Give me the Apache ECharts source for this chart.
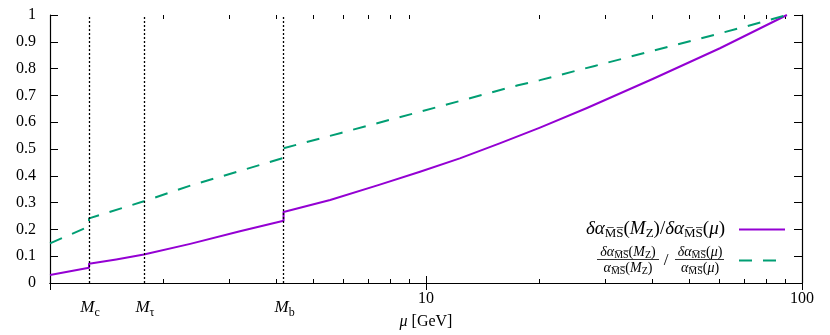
<!DOCTYPE html>
<html><head><meta charset="utf-8">
<script src="https://cdn.jsdelivr.net/npm/echarts@6/dist/echarts.min.js"></script>
<style>html,body{margin:0;padding:0;background:#fff}#c{width:830px;height:335px}</style>
</head><body><div id="c"></div>
<script>
// ---- data ----
const muPurple  = [1, 1.27, 1.27, 1.5, 1.777, 2.36, 3.2, 4.18, 4.18, 5.56, 7.5, 9.64, 12.3, 15.7, 20.1, 26.8, 40.2, 60.5, 91.19];
const valPurple = [0.03, 0.057, 0.072, 0.088, 0.106, 0.146, 0.193, 0.232, 0.265, 0.31, 0.366, 0.415, 0.465, 0.521, 0.58, 0.653, 0.762, 0.876, 1.0];
const muGreen   = [1, 1.27, 1.27, 1.777, 2.38, 3.2, 4.18, 4.18, 5.94, 9.64, 17.57, 20.1, 28.1, 44.6, 71.4, 91.19];
const valGreen  = [0.148, 0.211, 0.241, 0.305, 0.365, 0.418, 0.467, 0.503, 0.56, 0.639, 0.738, 0.757, 0.81, 0.883, 0.958, 1.0];
const markers   = [1.27, 1.777, 4.18];
const markerSub = ['c', 'τ', 'b'];
const xMinor    = [2, 3, 4, 5, 6, 7, 8, 9, 20, 30, 40, 50, 60, 70, 80, 90];

const FONT = 'Liberation Serif';
const purple = '#9400d3', green = '#009e73';
const OL = 'M\u0305S\u0305';

function richStyles(size, sub) {
  return {
    i: {fontFamily: FONT, fontStyle: 'italic', fontSize: size, color: '#000'},
    r: {fontFamily: FONT, fontSize: size, color: '#000'},
    s: {fontFamily: FONT, fontSize: sub, color: '#000', padding: [Math.round(size*0.5), 0, 0, 0]}
  };
}

const chart = echarts.init(document.getElementById('c'), null, {renderer: 'canvas'});
const gridPos = {left: 50, right: 28, top: 15, bottom: 52};
const axisLineStyle = {color: '#000', width: 1.2};
function xAx(pos) {
  return {
    type: 'log', logBase: 10, min: 1, max: 100, position: pos,
    axisLine: {show: true, lineStyle: axisLineStyle},
    axisTick: {show: true, inside: true, length: 7, lineStyle: {color: '#000', width: 1}},
    axisLabel: {show: pos === 'bottom', fontFamily: FONT, fontSize: 16, color: '#000', margin: 8,
      formatter: v => (Math.abs(v - 1) < 1e-9 ? '' : String(Math.round(v)))},
    splitLine: {show: false}, minorTick: {show: false}, minorSplitLine: {show: false}
  };
}
function yAx(pos) {
  return {
    type: 'value', min: 0, max: 1, interval: 0.1, position: pos,
    axisLine: {show: true, lineStyle: axisLineStyle},
    axisTick: {show: true, inside: true, length: 8, lineStyle: {color: '#000', width: 1}},
    axisLabel: {show: pos === 'left', fontFamily: FONT, fontSize: 16, color: '#000', margin: 14,
      formatter: v => String(Math.round(v * 10) / 10)},
    splitLine: {show: false}
  };
}

chart.setOption({
  animation: false,
  backgroundColor: '#fff',
  grid: Object.assign({outerBoundsMode: 'none', containLabel: false}, gridPos),
  xAxis: [xAx('bottom'), xAx('top')],
  yAxis: [yAx('left'), yAx('right')],
  series: [
    {
      type: 'line', xAxisIndex: 0, yAxisIndex: 0, showSymbol: false, symbol: 'none',
      data: muPurple.map((m, i) => [m, valPurple[i]]),
      lineStyle: {color: purple, width: 2, join: 'round'},
      z: 3,
      markLine: {
        silent: true, symbol: 'none', animation: false,
        label: {show: false},
        lineStyle: {color: '#000', type: [2, 2], width: 1.3},
        data: markers.map(m => ({xAxis: m}))
      }
    },
    {
      type: 'line', xAxisIndex: 0, yAxisIndex: 0, showSymbol: false, symbol: 'none',
      data: muGreen.map((m, i) => [m, valGreen[i]]),
      lineStyle: {color: green, width: 2, type: [13, 11]},
      z: 3
    }
  ]
});

const g = [];
// minor log ticks (bottom and top), positioned through the axis scale
const yBot = chart.convertToPixel({yAxisIndex: 0}, 0);
const yTop = chart.convertToPixel({yAxisIndex: 0}, 1);
xMinor.forEach(v => {
  const x = Math.round(chart.convertToPixel({xAxisIndex: 0}, v)) + 0.5;
  g.push({type: 'line', shape: {x1: x, y1: yBot, x2: x, y2: yBot - 4}, style: {stroke: '#000', lineWidth: 1}});
  g.push({type: 'line', shape: {x1: x, y1: yTop, x2: x, y2: yTop + 4}, style: {stroke: '#000', lineWidth: 1}});
});
// marker labels
markers.forEach((m, k) => {
  const x = chart.convertToPixel({xAxisIndex: 0}, m);
  g.push({type: 'text', x: x + 1, y: 308, style: {
    text: '{i|M}{s|' + markerSub[k] + '}', rich: richStyles(17, 12),
    align: 'center', verticalAlign: 'middle'}});
});
g.push({type: 'text', x: 426, y: 322, style: {
  text: '{i|μ}{r| [GeV]}', rich: richStyles(16, 11), align: 'center', verticalAlign: 'middle'}});

// legend line 1
g.push({type: 'text', x: 725, y: 229, style: {
  text: '{i|δα}{s|' + OL + '}{r|(}{i|M}{s|Z}{r|)/}{i|δα}{s|' + OL + '}{r|(}{i|μ}{r|)}',
  rich: richStyles(19, 13), align: 'right', verticalAlign: 'middle'}});
g.push({type: 'line', shape: {x1: 739, y1: 229.5, x2: 785, y2: 229.5}, style: {stroke: purple, lineWidth: 2}});
// legend line 2 (fractions)
function frac(cx, num, den, x1, x2) {
  g.push({type: 'text', x: cx, y: 252, style: {text: num, rich: richStyles(14, 10), align: 'center', verticalAlign: 'middle'}});
  g.push({type: 'line', shape: {x1: x1, y1: 259.5, x2: x2, y2: 259.5}, style: {stroke: '#000', lineWidth: 0.8}});
  g.push({type: 'text', x: cx, y: 268, style: {text: den, rich: richStyles(14, 10), align: 'center', verticalAlign: 'middle'}});
}
frac(628, '{i|δα}{s|' + OL + '}{r|(}{i|M}{s|Z}{r|)}', '{i|α}{s|' + OL + '}{r|(}{i|M}{s|Z}{r|)}', 597, 659);
g.push({type: 'text', x: 666, y: 261, style: {text: '/', fontFamily: FONT, fontSize: 17, fill: '#000', align: 'center', verticalAlign: 'middle'}});
frac(700, '{i|δα}{s|' + OL + '}{r|(}{i|μ}{r|)}', '{i|α}{s|' + OL + '}{r|(}{i|μ}{r|)}', 675, 724);
g.push({type: 'line', shape: {x1: 739, y1: 260.5, x2: 781, y2: 260.5}, style: {stroke: green, lineWidth: 2, lineDash: [13, 11]}});

chart.setOption({graphic: g});
</script>
</body></html>
